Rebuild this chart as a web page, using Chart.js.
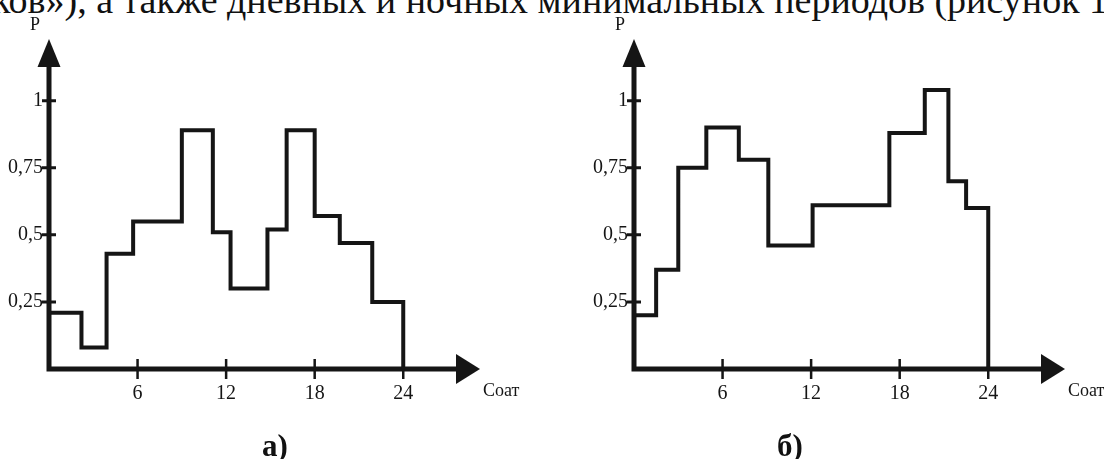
<!DOCTYPE html>
<html>
<head>
<meta charset="utf-8">
<script src="https://cdn.jsdelivr.net/npm/chart.js@4.4.1/dist/chart.umd.min.js"></script>
<style>
  html, body { margin:0; padding:0; background:#fff; width:1104px; height:459px; overflow:hidden; position:relative; }
  .line { position:absolute; left:-8px; top:-19px; white-space:nowrap; font-family:"Liberation Serif", serif; font-size:38px; line-height:38px; color:#111; }
  .cv { position:absolute; top:0; }
  .tag { position:absolute; top:430px; font-family:"Liberation Serif", serif; font-weight:bold; font-size:31px; line-height:31px; color:#111; }
</style>
</head>
<body>
<div class="line">ков»), а также дневных и ночных минимальных периодов (рисунок 1</div>
<canvas id="chart-a" class="cv" width="520" height="459" style="left:0px"></canvas>
<canvas id="chart-b" class="cv" width="520" height="459" style="left:585px"></canvas>
<div class="tag" style="left:262px">а)</div>
<div class="tag" style="left:777px">б)</div>
<script>
// часы, где начинается каждая ступень (последнее значение - конец на 24)
const aEdges  = [0, 2.2, 3.9, 5.7, 9, 11.1, 12.3, 14.8, 16.1, 18, 19.7, 21.9, 24];
const aValues = [0.21, 0.08, 0.43, 0.55, 0.89, 0.51, 0.30, 0.52, 0.89, 0.57, 0.47, 0.25];

const bEdges  = [0, 1.5, 3, 4.9, 7.1, 9.1, 12.1, 17.3, 19.7, 21.3, 22.5, 24];
const bValues = [0.20, 0.37, 0.75, 0.90, 0.78, 0.46, 0.61, 0.88, 1.04, 0.70, 0.60];

const xTicks = [6, 12, 18, 24];
const yTicks = [0.25, 0.5, 0.75, 1];
const yTickLabels = ['0,25', '0,5', '0,75', '1'];
const yAxisName = 'P';
const xAxisName = 'Соат';

const X_MAX = 29.2, Y_MAX = 1.23;
const INK = '#151515';
const SERIF = '"Liberation Serif", "Times New Roman", serif';

function buildSteps(edges, values){
  const pts = edges.map((x, i) => ({ x, y: values[Math.min(i, values.length - 1)] }));
  pts.push({ x: edges[edges.length - 1], y: 0 });
  return pts;
}

// оси со стрелками и засечками
const arrowAxes = {
  id: 'arrowAxes',
  afterDraw(chart){
    const { ctx, scales: { x, y } } = chart;
    const x0 = x.getPixelForValue(0), y0 = y.getPixelForValue(0);
    const xEnd = x.getPixelForValue(X_MAX), yEnd = y.getPixelForValue(Y_MAX);
    ctx.save();
    ctx.strokeStyle = INK; ctx.fillStyle = INK; ctx.lineCap = 'butt';
    ctx.lineWidth = 5;
    ctx.beginPath();
    ctx.moveTo(x0 - 2.5, y0); ctx.lineTo(xEnd - 20, y0);
    ctx.moveTo(x0, y0 + 2.5); ctx.lineTo(x0, yEnd + 24);
    ctx.stroke();
    // наконечники
    ctx.beginPath();
    ctx.moveTo(xEnd, y0); ctx.lineTo(xEnd - 24, y0 - 15); ctx.lineTo(xEnd - 24, y0 + 15); ctx.closePath();
    ctx.fill();
    ctx.beginPath();
    ctx.moveTo(x0, yEnd); ctx.lineTo(x0 - 11.5, yEnd + 28); ctx.lineTo(x0 + 11.5, yEnd + 28); ctx.closePath();
    ctx.fill();
    // засечки
    ctx.lineWidth = 2.5;
    ctx.beginPath();
    xTicks.forEach(v => { const px = x.getPixelForValue(v); ctx.moveTo(px, y0 - 10); ctx.lineTo(px, y0 + 10); });
    ctx.stroke();
    ctx.lineWidth = 3;
    ctx.beginPath();
    yTicks.forEach(v => { const py = y.getPixelForValue(v); ctx.moveTo(x0 - 7, py); ctx.lineTo(x0 + 7, py); });
    ctx.stroke();
    // подписи осей
    ctx.font = '18px ' + SERIF;
    ctx.textBaseline = 'alphabetic';
    ctx.textAlign = 'center';
    ctx.fillText(yAxisName, x0 - 14, yEnd - 9);
    ctx.textAlign = 'left';
    ctx.textBaseline = 'middle';
    ctx.fillText(xAxisName, xEnd + 3, y0 + 22);
    ctx.restore();
  }
};

function makeChart(id, edges, values){
  const el = document.getElementById(id);
  return new Chart(el.getContext('2d'), {
    type: 'line',
    data: {
      datasets: [{
        data: buildSteps(edges, values),
        stepped: 'before',
        borderColor: INK,
        borderWidth: 4,
        borderJoinStyle: 'miter',
        borderCapStyle: 'butt',
        pointRadius: 0,
        fill: false
      }]
    },
    options: {
      responsive: false,
      animation: false,
      devicePixelRatio: 1,
      layout: { padding: { top: 39, right: 40, bottom: 50, left: 0 } },
      plugins: { legend: { display: false }, tooltip: { enabled: false } },
      scales: {
        x: {
          type: 'linear', min: 0, max: X_MAX,
          afterBuildTicks: s => { s.ticks = xTicks.map(v => ({ value: v })); },
          afterFit: s => { s.height = 40; },
          grid: { display: false, drawTicks: false },
          border: { display: false },
          ticks: { color: INK, font: { family: SERIF, size: 20 }, padding: 13, maxRotation: 0, autoSkip: false }
        },
        y: {
          type: 'linear', min: 0, max: Y_MAX,
          afterBuildTicks: s => { s.ticks = yTicks.map(v => ({ value: v })); },
          afterFit: s => { s.width = 49; },
          grid: { display: false, drawTicks: false },
          border: { display: false },
          ticks: {
            color: INK, font: { family: SERIF, size: 20 }, padding: 6, autoSkip: false,
            callback: v => { const i = yTicks.indexOf(v); return i >= 0 ? yTickLabels[i] : ''; }
          }
        }
      }
    },
    plugins: [arrowAxes]
  });
}

makeChart('chart-a', aEdges, aValues);
makeChart('chart-b', bEdges, bValues);
</script>
</body>
</html>
